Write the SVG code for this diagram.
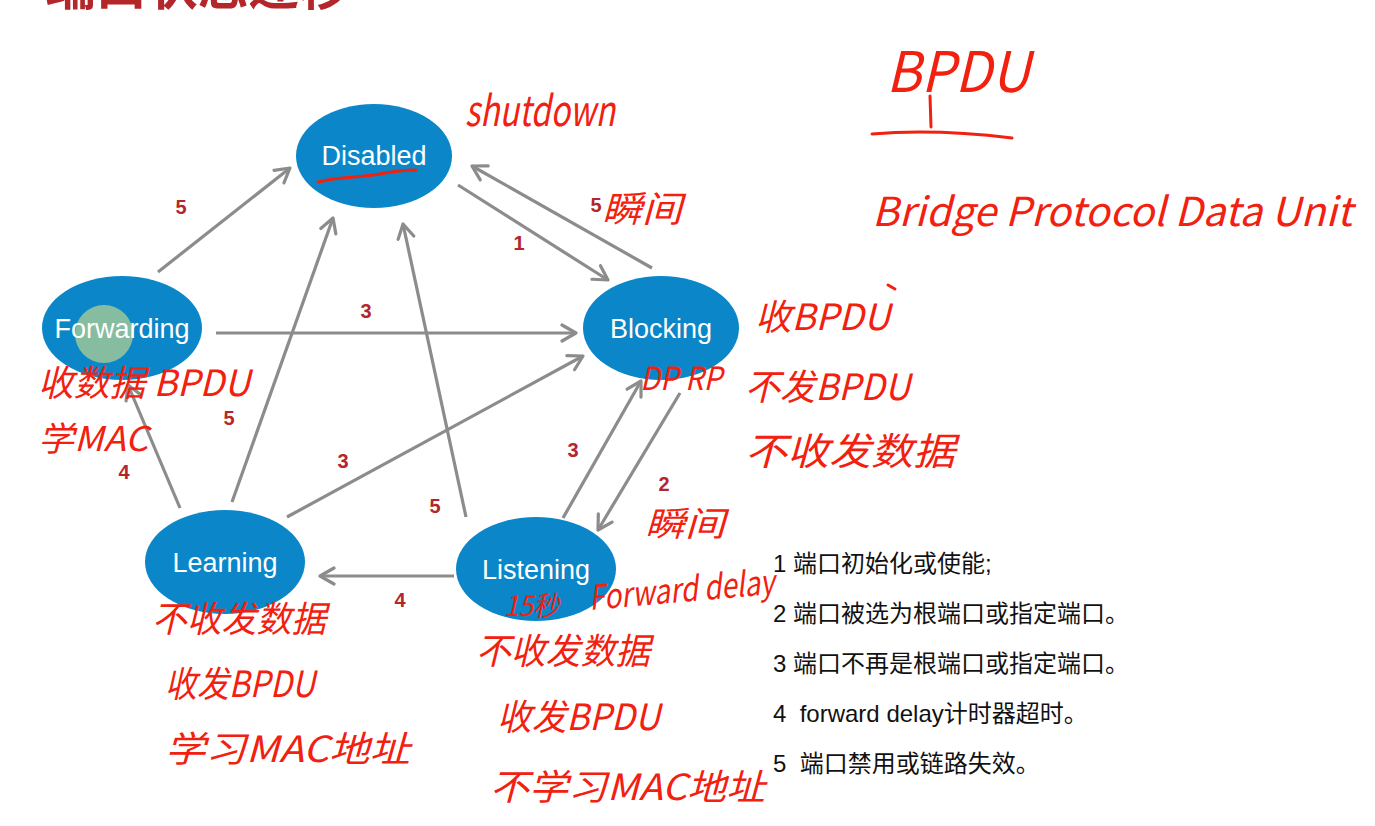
<svg xmlns="http://www.w3.org/2000/svg" width="1375" height="826" viewBox="0 0 1375 826">
<defs>
<marker id="ah" markerUnits="userSpaceOnUse" markerWidth="20" markerHeight="20" viewBox="0 0 20 20" refX="17" refY="10" orient="auto">
<path d="M3,2 L17,10 L3,18" fill="none" stroke="#8c8c8c" stroke-width="3.2" stroke-linecap="round" stroke-linejoin="round"/>
</marker>
<style>
.node{fill:#0b87c9;}
.nt{font-family:"Liberation Sans",Arial,sans-serif;font-size:27px;fill:#ffffff;text-anchor:middle;}
.edge{stroke:#8c8c8c;stroke-width:3.2;fill:none;marker-end:url(#ah);}
.lbl{font-family:"Liberation Sans",Arial,sans-serif;font-size:20px;font-weight:bold;fill:#b3262a;text-anchor:middle;}
.leg{font-family:"Liberation Sans","Noto Sans CJK SC",sans-serif;font-size:24px;fill:#111111;}
.hw{font-family:"Noto Sans CJK SC","DejaVu Sans",sans-serif;fill:#f2200f;font-style:italic;}
.hl{stroke:#f2200f;stroke-width:3;fill:none;stroke-linecap:round;}
</style>
</defs>
<rect width="1375" height="826" fill="#ffffff"/>
<text x="45" y="5" font-family="Noto Sans CJK SC,sans-serif" font-size="52" font-weight="bold" fill="#b3262a" textLength="305" lengthAdjust="spacingAndGlyphs">端口状态迁移</text>

<g id="connectors">
<line class="edge" x1="158" y1="272" x2="290" y2="168"/>
<line class="edge" x1="216" y1="333" x2="576" y2="333"/>
<line class="edge" x1="458" y1="185" x2="608" y2="280"/>
<line class="edge" x1="652" y1="268" x2="472" y2="166"/>
<line class="edge" x1="180" y1="508" x2="128" y2="385"/>
<line class="edge" x1="232" y1="502" x2="333" y2="218"/>
<line class="edge" x1="287" y1="517" x2="583" y2="356"/>
<line class="edge" x1="466" y1="517" x2="403" y2="224"/>
<line class="edge" x1="563" y1="518" x2="641" y2="381"/>
<line class="edge" x1="680" y1="393" x2="598" y2="530"/>
<line class="edge" x1="454" y1="576" x2="320" y2="576"/>
<text class="lbl" x="181" y="214">5</text>
<text class="lbl" x="366" y="318">3</text>
<text class="lbl" x="519" y="250">1</text>
<text class="lbl" x="596" y="212">5</text>
<text class="lbl" x="124" y="479">4</text>
<text class="lbl" x="229" y="425">5</text>
<text class="lbl" x="343" y="468">3</text>
<text class="lbl" x="435" y="513">5</text>
<text class="lbl" x="573" y="457">3</text>
<text class="lbl" x="664" y="491">2</text>
<text class="lbl" x="400" y="607">4</text>
</g>

<g id="disabled">
<ellipse class="node" cx="374" cy="156" rx="78" ry="52"/>
<text class="nt" x="374" y="165">Disabled</text>
</g>
<g id="blocking">
<ellipse class="node" cx="661" cy="328" rx="78" ry="52"/>
<text class="nt" x="661" y="338">Blocking</text>
</g>
<g id="forwarding">
<ellipse class="node" cx="122" cy="328" rx="80" ry="52"/>
<circle cx="104" cy="334" r="29" fill="#9cc79a" opacity="0.85"/>
<text class="nt" x="122" y="338">Forwarding</text>
</g>
<g id="learning">
<ellipse class="node" cx="225" cy="562" rx="80" ry="52"/>
<text class="nt" x="225" y="572">Learning</text>
</g>
<g id="listening">
<ellipse class="node" cx="536" cy="569" rx="80" ry="52"/>
<text class="nt" x="536" y="579">Listening</text>
</g>

<g id="legend">
<text class="leg" x="773" y="572">1 端口初始化或使能;</text>
<text class="leg" x="773" y="622">2 端口被选为根端口或指定端口。</text>
<text class="leg" x="773" y="672">3 端口不再是根端口或指定端口。</text>
<text class="leg" x="773" y="722" xml:space="preserve">4  forward delay计时器超时。</text>
<text class="leg" x="773" y="772" xml:space="preserve">5  端口禁用或链路失效。</text>
</g>

<g id="annotations">
<path class="hl" d="M318,182 C340,176 360,178 380,174 C395,171 405,170 416,170"/>
<text class="hw" x="465" y="126" font-size="42" textLength="150" lengthAdjust="spacingAndGlyphs">shutdown</text>
<text class="hw" x="602" y="222" font-size="36" textLength="80" lengthAdjust="spacingAndGlyphs">瞬间</text>
<text class="hw" x="886" y="92" font-size="56" textLength="144" lengthAdjust="spacingAndGlyphs">BPDU</text>
<path class="hl" d="M930,96 L931,127 M872,134 C920,130 970,133 1012,138"/>
<text class="hw" x="872" y="226" font-size="40" textLength="480" lengthAdjust="spacingAndGlyphs">Bridge Protocol Data Unit</text>
<text class="hw" x="755" y="330" font-size="36" textLength="135" lengthAdjust="spacingAndGlyphs">收BPDU</text>
<path class="hl" d="M888,285 L895,289"/>
<text class="hw" x="745" y="400" font-size="36" textLength="165" lengthAdjust="spacingAndGlyphs">不发BPDU</text>
<text class="hw" x="745" y="465" font-size="38" textLength="210" lengthAdjust="spacingAndGlyphs">不收发数据</text>
<text class="hw" x="640" y="390" font-size="32" textLength="82" lengthAdjust="spacingAndGlyphs">DP RP</text>
<text class="hw" x="38" y="396" font-size="36" textLength="212" lengthAdjust="spacingAndGlyphs">收数据 BPDU</text>
<text class="hw" x="38" y="451" font-size="34" textLength="110" lengthAdjust="spacingAndGlyphs">学MAC</text>
<text class="hw" x="152" y="632" font-size="36" textLength="174" lengthAdjust="spacingAndGlyphs">不收发数据</text>
<text class="hw" x="165" y="697" font-size="36" textLength="150" lengthAdjust="spacingAndGlyphs">收发BPDU</text>
<text class="hw" x="165" y="762" font-size="36" textLength="245" lengthAdjust="spacingAndGlyphs">学习MAC地址</text>
<text class="hw" x="504" y="616" font-size="28" textLength="55" lengthAdjust="spacingAndGlyphs">15秒</text>
<text class="hw" x="590" y="610" font-size="34" textLength="186" lengthAdjust="spacingAndGlyphs" transform="rotate(-5 590 610)">Forward delay</text>
<text class="hw" x="476" y="664" font-size="36" textLength="174" lengthAdjust="spacingAndGlyphs">不收发数据</text>
<text class="hw" x="497" y="730" font-size="36" textLength="163" lengthAdjust="spacingAndGlyphs">收发BPDU</text>
<text class="hw" x="490" y="800" font-size="36" textLength="275" lengthAdjust="spacingAndGlyphs">不学习MAC地址</text>
<text class="hw" x="645" y="536" font-size="34" textLength="80" lengthAdjust="spacingAndGlyphs">瞬间</text>
</g>
</svg>
